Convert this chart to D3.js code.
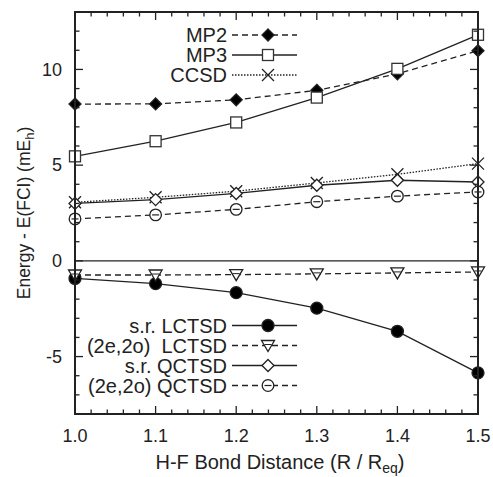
<!DOCTYPE html>
<html>
<head>
<meta charset="utf-8">
<script src="https://cdn.jsdelivr.net/npm/d3@7"></script>
<style>
  body { margin: 0; background: #fff; }
  text { font-family: "Liberation Sans", Arial, Helvetica, sans-serif; fill: #222; }
</style>
</head>
<body>
<div id="d1"></div>
<script>
// bond distances R / Req
const distances = [1.0, 1.1, 1.2, 1.3, 1.4, 1.5];

// Energy - E(FCI), mEh
const mp2 = [8.19, 8.2, 8.41, 8.91, 9.77, 10.98];
const mp3 = [5.46, 6.25, 7.23, 8.53, 10.03, 11.81];
const ccsd = [3.06, 3.32, 3.64, 4.07, 4.52, 5.08];
const srLctsd = [-0.92, -1.19, -1.66, -2.47, -3.68, -5.85];
const casLctsd = [-0.74, -0.74, -0.72, -0.68, -0.63, -0.58];
const srQctsd = [3.0, 3.2, 3.52, 3.95, 4.21, 4.12];
const casQctsd = [2.19, 2.4, 2.69, 3.09, 3.38, 3.6];

const xTicks = [1.0, 1.1, 1.2, 1.3, 1.4, 1.5];
const yTicks = [-5, 0, 5, 10];

const width = 493, height = 477;
const margin = { top: 12, right: 15, bottom: 63, left: 75 };

const x = d3.scaleLinear().domain([1.0, 1.5]).range([margin.left, width - margin.right]);
const y = d3.scaleLinear().domain([-8, 13]).range([height - margin.bottom, margin.top]);

const series = [
  { name: "MP2", values: mp2, marker: "diamondFilled", dash: "6,4", group: 0 },
  { name: "MP3", values: mp3, marker: "square", dash: null, group: 0 },
  { name: "CCSD", values: ccsd, marker: "cross", dash: "1.5,1.5", group: 0 },
  { name: "s.r. LCTSD", values: srLctsd, marker: "circleFilled", dash: null, group: 1 },
  { name: "(2e,2o)  LCTSD", values: casLctsd, marker: "triangleDown", dash: "6,4", group: 1 },
  { name: "s.r. QCTSD", values: srQctsd, marker: "diamond", dash: null, group: 1 },
  { name: "(2e,2o) QCTSD", values: casQctsd, marker: "circle", dash: "6,4", group: 1 }
];

const svg = d3.select("#d1")
  .append("svg")
  .attr("width", width)
  .attr("height", height)
  .attr("viewBox", [0, 0, width, height]);

// zero line
svg.append("line")
  .attr("x1", x(1.0)).attr("x2", x(1.5))
  .attr("y1", y(0)).attr("y2", y(0))
  .attr("stroke", "#222").attr("stroke-width", 1.4);

const line = d3.line()
  .x((d, i) => x(distances[i]))
  .y(d => y(d));

function drawMarker(g, type, cx, cy) {
  const s = 6;
  if (type === "diamondFilled" || type === "diamond") {
    g.append("path")
      .attr("d", `M${cx},${cy - s}L${cx + s},${cy}L${cx},${cy + s}L${cx - s},${cy}Z`)
      .attr("fill", type === "diamondFilled" ? "#000" : "#fff")
      .attr("stroke", "#222").attr("stroke-width", 1.3);
  } else if (type === "square") {
    g.append("rect")
      .attr("x", cx - 5.5).attr("y", cy - 5.5)
      .attr("width", 11).attr("height", 11)
      .attr("fill", "#fff").attr("stroke", "#333").attr("stroke-width", 1.3);
  } else if (type === "cross") {
    g.append("path")
      .attr("d", `M${cx - 6},${cy - 6}L${cx + 6},${cy + 6}M${cx - 6},${cy + 6}L${cx + 6},${cy - 6}`)
      .attr("stroke", "#222").attr("stroke-width", 1.3);
  } else if (type === "circleFilled" || type === "circle") {
    g.append("circle")
      .attr("cx", cx).attr("cy", cy).attr("r", type === "circleFilled" ? 6 : 5.8)
      .attr("fill", type === "circleFilled" ? "#000" : "#fff")
      .attr("stroke", "#222").attr("stroke-width", 1.3);
    if (type === "circle") {
      g.append("line")
        .attr("x1", cx - 3.5).attr("x2", cx + 3.5)
        .attr("y1", cy).attr("y2", cy)
        .attr("stroke", "#222").attr("stroke-width", 1.2);
    }
  } else if (type === "triangleDown") {
    g.append("path")
      .attr("d", `M${cx - 6.5},${cy - 5}L${cx + 6.5},${cy - 5}L${cx},${cy + 6}Z`)
      .attr("fill", "#fff").attr("stroke", "#222").attr("stroke-width", 1.3);
    g.append("line")
      .attr("x1", cx - 3.5).attr("x2", cx + 3.5)
      .attr("y1", cy - 1).attr("y2", cy - 1)
      .attr("stroke", "#222").attr("stroke-width", 1);
  }
}

// lines
const plot = svg.append("g");
series.forEach(s => {
  plot.append("path")
    .datum(s.values)
    .attr("fill", "none")
    .attr("stroke", "#222")
    .attr("stroke-width", 1.3)
    .attr("stroke-dasharray", s.dash)
    .attr("d", line);
});

// markers
series.forEach(s => {
  const g = svg.append("g");
  s.values.forEach((v, i) => drawMarker(g, s.marker, x(distances[i]), y(v)));
});

// axes
const x0 = x(1.0), x1 = x(1.5), yb = y(-8), yt = y(13);
const axes = svg.append("g").attr("stroke", "#222");

const xMinor = d3.range(0, 26).map(i => 1.0 + i * 0.02);
xMinor.forEach(t => {
  const major = xTicks.some(m => Math.abs(m - t) < 1e-6);
  const len = major ? 8 : 4.5;
  axes.append("line").attr("x1", x(t)).attr("x2", x(t))
    .attr("y1", yb).attr("y2", yb - len).attr("stroke-width", 1.3);
  axes.append("line").attr("x1", x(t)).attr("x2", x(t))
    .attr("y1", yt).attr("y2", yt + len).attr("stroke-width", 1.3);
});

const yMinor = d3.range(-8, 14);
yMinor.forEach(t => {
  const major = yTicks.includes(t);
  const len = major ? 8 : 4.5;
  axes.append("line").attr("x1", x0).attr("x2", x0 + len)
    .attr("y1", y(t)).attr("y2", y(t)).attr("stroke-width", 1.3);
  axes.append("line").attr("x1", x1).attr("x2", x1 - len)
    .attr("y1", y(t)).attr("y2", y(t)).attr("stroke-width", 1.3);
});

svg.append("rect")
  .attr("x", x0).attr("y", yt)
  .attr("width", x1 - x0).attr("height", yb - yt)
  .attr("fill", "none").attr("stroke", "#222").attr("stroke-width", 2);

// tick labels
svg.append("g").selectAll("text")
  .data(xTicks)
  .join("text")
  .attr("x", d => x(d))
  .attr("y", yb + 28)
  .attr("text-anchor", "middle")
  .attr("font-size", 18)
  .text(d => d3.format(".1f")(d));

svg.append("g").selectAll("text")
  .data(yTicks)
  .join("text")
  .attr("x", x0 - 13)
  .attr("y", d => y(d))
  .attr("dy", "0.35em")
  .attr("text-anchor", "end")
  .attr("font-size", 18)
  .text(d => d);

// axis titles
const xTitle = svg.append("text")
  .attr("x", 280)
  .attr("y", 469)
  .attr("text-anchor", "middle")
  .attr("font-size", 20);
xTitle.append("tspan").text("H-F Bond Distance (R / R");
xTitle.append("tspan").attr("font-size", 14).attr("dy", 4).text("eq");
xTitle.append("tspan").attr("dy", -4).text(")");

const yTitle = svg.append("text")
  .attr("transform", `translate(30,${(yt + yb) / 2}) rotate(-90)`)
  .attr("text-anchor", "middle")
  .attr("font-size", 17.5);
yTitle.append("tspan").text("Energy - E(FCI) (mE");
yTitle.append("tspan").attr("font-size", 13).attr("dy", 4).text("h");
yTitle.append("tspan").attr("dy", -4).text(")");

// legends
const legendTop = [35, 325.5];
const legendStep = 20;
[0, 1].forEach(gi => {
  const items = series.filter(s => s.group === gi);
  items.forEach((s, i) => {
    const ly = legendTop[gi] + i * legendStep;
    svg.append("text")
      .attr("x", 227)
      .attr("y", ly)
      .attr("dy", "0.35em")
      .attr("text-anchor", "end")
      .attr("font-size", 20)
      .style("white-space", "pre")
      .text(s.name);
    svg.append("line")
      .attr("x1", 232).attr("x2", 297)
      .attr("y1", ly).attr("y2", ly)
      .attr("stroke", "#222").attr("stroke-width", 1.3)
      .attr("stroke-dasharray", s.dash);
    drawMarker(svg.append("g"), s.marker, 268, ly);
  });
});
</script>
</body>
</html>
